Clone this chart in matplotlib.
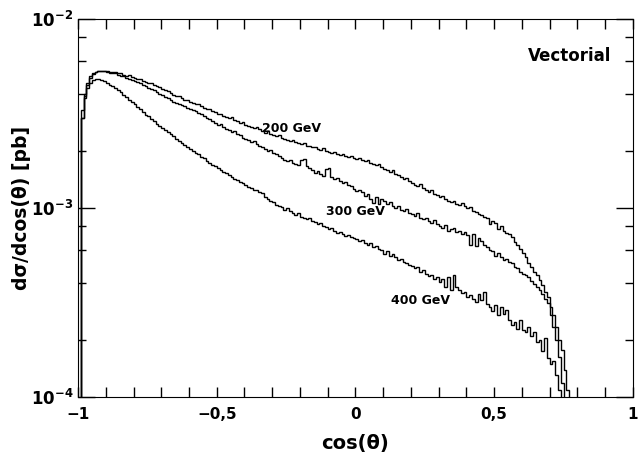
import matplotlib
matplotlib.use("Agg")
import matplotlib.pyplot as plt
import matplotlib.ticker as ticker
import numpy as np

# bin edges: 200 bins of 0.01 in cos(theta)
bordas = np.linspace(-1, 1, 201)

# dsigma/dcos(theta) em unidades de 1e-4 pb
v200 = [0, 33, 40, 46, 50, 52, 52.5, 53, 53.3, 52.8,
        53, 52.4, 52.6, 52.3, 51.6, 51.8, 50.8, 50.2, 50.4, 49.3,
        48.7, 48.0, 48.2, 47.2, 46.5, 45.9, 46.1, 45.0, 44.2, 43.6,
        42.6, 42.1, 41.5, 40.4, 39.8, 39.0, 39.1, 38.2, 37.4, 37.5,
        36.6, 36.0, 35.5, 35.6, 34.6, 34.0, 33.4, 33.6, 32.6, 32.2,
        31.6, 31.6, 30.8, 30.4, 30.0, 30.2, 29.2, 28.8, 28.3, 28.6,
        27.6, 27.3, 26.9, 26.6, 26.9, 26.1, 25.6, 25.0, 25.4, 24.6,
        24.3, 24.0, 24.4, 23.6, 23.3, 23.0, 22.6, 22.9, 22.3, 22.0,
        21.8, 22.1, 21.4, 21.2, 20.9, 21.0, 20.6, 20.3, 20.7, 20.1,
        19.8, 19.6, 19.9, 19.3, 19.1, 19.4, 18.9, 18.7, 18.8, 18.4,
        18.2, 18.5, 17.9, 17.7, 17.9, 17.3, 17.0, 16.8, 17.1, 16.4,
        16.1, 15.9, 15.6, 15.8, 15.2, 14.9, 14.6, 14.3, 14.5, 13.9,
        13.5, 13.3, 13.0, 13.4, 12.7, 12.5, 12.2, 12.5, 11.9, 11.7,
        11.4, 11.6, 11.1, 10.9, 10.7, 10.9, 10.5, 10.4, 10.6, 10.2,
        10.0, 10.1, 9.7, 9.5, 9.3, 9.2, 9.0, 8.9, 8.2, 8.5,
        8.3, 7.7, 8.0, 7.6, 7.4, 7.3, 7.0, 6.6, 6.4, 6.1,
        5.8, 5.5, 5.1, 4.9, 4.6, 4.4, 4.15, 3.9, 3.6, 3.4,
        3.0, 2.7, 2.35, 2.0, 1.77, 1.39, 1.09, 0.95, 0, 0,
        0, 0, 0, 0, 0, 0, 0, 0, 0, 0,
        0, 0, 0, 0, 0, 0, 0, 0, 0, 0]

v300 = [0, 30, 39, 45, 49, 51, 52.5, 53, 52.8, 53.2,
        52.5, 52, 51.5, 51.8, 50.6, 49.8, 49.9, 49, 48.3, 47.6,
        47.0, 46.4, 45.6, 44.8, 44.0, 43.1, 42.5, 41.9, 41.2, 40.3,
        39.5, 38.7, 38.0, 37.2, 36.6, 36.0, 35.6, 35.1, 34.6, 34.0,
        33.6, 33.0, 32.5, 31.8, 31.3, 30.7, 30.0, 29.6, 28.8, 28.1,
        27.6, 27.8, 26.9, 26.3, 25.9, 25.2, 25.5, 24.6, 24.2, 23.6,
        23.3, 22.9, 22.4, 22.6, 21.8, 21.3, 21.0, 20.5, 20.1, 20.2,
        19.5, 19.2, 18.8, 18.5, 18.0, 17.7, 17.9, 17.4, 17.1, 16.8,
        18.0, 18.2, 16.6, 16.2, 15.8, 15.4, 15.7, 15.1, 14.8, 16.1,
        16.2, 14.6, 14.2, 14.4, 13.9, 13.6, 13.8, 13.3, 13.0, 12.6,
        12.3, 12.5, 12.1, 11.6, 11.8, 11.2, 10.6, 11.4, 10.5, 11.2,
        10.9, 10.5, 10.7, 10.3, 10.0, 10.2, 9.8, 9.6, 9.9, 9.4,
        9.3, 9.1, 9.4, 8.9, 8.7, 8.9, 8.5, 8.3, 8.6, 8.2,
        8.0, 7.8, 8.1, 7.6, 7.7, 7.8, 7.5, 7.6, 7.3, 7.5,
        7.2, 6.4, 7.3, 6.3, 6.9, 6.7, 6.4, 6.2, 6.0, 5.9,
        5.6, 5.8, 5.5, 5.3, 5.4, 5.2, 5.1, 4.9, 4.8, 4.6,
        4.5, 4.4, 4.3, 4.1, 3.95, 3.8, 3.7, 3.5, 3.3, 3.15,
        2.7, 2.35, 2.0, 1.62, 1.19, 0, 0, 0, 0, 0,
        0, 0, 0, 0, 0, 0, 0, 0, 0, 0,
        0, 0, 0, 0, 0, 0, 0, 0, 0, 0]

v400 = [0, 30, 38, 43, 46, 47.5, 48, 48.3, 47.6, 46.8,
        45.9, 45.0, 44.0, 43.1, 41.9, 40.9, 39.6, 38.7, 37.4, 36.4,
        35.5, 34.2, 33.4, 32.2, 31.2, 30.5, 29.4, 28.8, 27.9, 27.3,
        26.5, 25.9, 25.3, 24.5, 24.0, 23.2, 22.6, 22.2, 21.6, 21.1,
        20.6, 20.1, 19.6, 19.2, 18.7, 18.3, 17.8, 17.4, 16.9, 16.6,
        16.2, 15.9, 15.5, 15.3, 14.9, 14.6, 14.3, 14.1, 13.7, 13.5,
        13.2, 12.9, 12.7, 12.4, 12.5, 12.1, 12.0, 11.5, 11.1, 10.9,
        10.7, 10.4, 10.2, 10.1, 9.8, 10.0, 9.6, 9.4, 9.2, 9.4,
        9.0, 8.9, 8.7, 8.8, 8.5, 8.4, 8.2, 8.3, 8.0, 7.9,
        7.7, 7.8, 7.6, 7.4, 7.5, 7.3, 7.1, 7.2, 7.0, 6.9,
        6.85, 6.7, 6.8, 6.5, 6.4, 6.5, 6.2, 6.3, 6.1, 6.0,
        5.7, 5.9, 5.6, 5.7, 5.5, 5.3, 5.4, 5.2, 5.1, 5.0,
        4.94, 4.8, 4.85, 4.6, 4.7, 4.5, 4.35, 4.4, 4.2, 4.3,
        4.05, 4.2, 3.8, 4.3, 3.7, 4.4, 3.8, 3.7, 3.55, 3.6,
        3.4, 3.47, 3.3, 3.2, 3.5, 3.25, 3.6, 3.1, 3.0, 2.85,
        3.05, 2.7, 3.0, 2.75, 2.9, 2.55, 2.4, 2.5, 2.3, 2.55,
        2.25, 2.2, 2.35, 2.1, 2.2, 1.95, 2.0, 1.75, 2.05, 1.6,
        1.5, 1.55, 1.3, 1.09, 0, 0, 0, 0, 0, 0,
        0, 0, 0, 0, 0, 0, 0, 0, 0, 0,
        0, 0, 0, 0, 0, 0, 0, 0, 0, 0]

rotulos = ["200 GeV", "300 GeV", "400 GeV"]
xticks = [-1, -0.5, 0, 0.5, 1]

fig = plt.figure(figsize=(6.38, 4.57), dpi=100)
ax = fig.add_axes([0.1223, 0.1313, 0.8697, 0.8271])

for v in [v200, v300, v400]:
    y = np.array(v) * 1e-4
    y = np.where(y > 0, y, 1e-7)
    ax.stairs(y, bordas, color="black", lw=1.0, baseline=1e-7)

ax.set_yscale("log")
ax.set_xlim(-1, 1)
ax.set_ylim(1e-4, 1e-2)

ax.set_xticks(xticks)
ax.xaxis.set_minor_locator(ticker.MultipleLocator(0.1))
ax.xaxis.set_major_formatter(ticker.FuncFormatter(
    lambda x, p: ("%g" % x).replace("-", "\u2212").replace(".", ",")))
ax.yaxis.set_major_locator(ticker.FixedLocator([1e-4, 1e-3, 1e-2]))
ax.yaxis.set_minor_locator(ticker.LogLocator(base=10, subs=[2, 4, 6, 8]))
ax.yaxis.set_minor_formatter(ticker.NullFormatter())
ax.yaxis.set_major_formatter(ticker.FuncFormatter(
    lambda y, p: r"$\mathbf{10^{%d}}$" % int(round(np.log10(y)))))

ax.tick_params(which="both", direction="in", top=True, right=True, width=1)
ax.tick_params(axis="x", which="major", length=7, labelsize=11, pad=7)
ax.tick_params(axis="x", which="minor", length=7)
ax.tick_params(axis="y", which="major", length=12, labelsize=12)
ax.tick_params(axis="y", which="minor", length=6)
for lab in ax.get_xticklabels():
    lab.set_fontweight("bold")

ax.set_xlabel("cos(θ)", fontsize=14, fontweight="bold", labelpad=9)
ax.set_ylabel("dσ/dcos(θ) [pb]", fontsize=13.5, fontweight="bold", labelpad=0)

ax.text(0.773, 6.35e-3, "Vectorial", fontsize=12, fontweight="bold", ha="center", va="center")
ax.text(-0.23, 2.65e-3, rotulos[0], fontsize=9, fontweight="bold", ha="center", va="center")
ax.text(0.0, 9.6e-4, rotulos[1], fontsize=9, fontweight="bold", ha="center", va="center")
ax.text(0.236, 3.26e-4, rotulos[2], fontsize=9, fontweight="bold", ha="center", va="center")

fig.savefig("out.png", dpi=100)
